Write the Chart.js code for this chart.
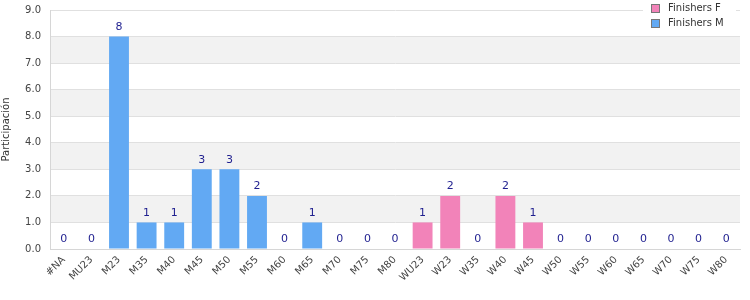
<!DOCTYPE html>
<html>
<head>
<meta charset="utf-8">
<script src="https://cdn.jsdelivr.net/npm/chart.js@4"></script>
<style>
  body { margin: 0; background: #fff; }
  #wrap { width: 750px; height: 300px; }
</style>
</head>
<body>
<div id="wrap"><canvas id="chart"></canvas></div>
<script>
// categorias y valores
const categorias = ['#NA', 'MU23', 'M23', 'M35', 'M40', 'M45', 'M50', 'M55', 'M60', 'M65', 'M70', 'M75', 'M80',
  'WU23', 'W23', 'W35', 'W40', 'W45', 'W50', 'W55', 'W60', 'W65', 'W70', 'W75', 'W80'];
const finishersF = [null, null, null, null, null, null, null, null, null, null, null, null, null,
  1, 2, 0, 2, 1, 0, 0, 0, 0, 0, 0, 0];
const finishersM = [0, 0, 8, 1, 1, 3, 3, 2, 0, 1, 0, 0, 0,
  null, null, null, null, null, null, null, null, null, null, null, null];
const serieNombres = ['Finishers F', 'Finishers M'];
const colores = ['#f283b9', '#62a9f3'];

// bandas grises alternas + etiquetas de valor + leyenda
const extras = {
  id: 'extras',
  beforeDraw(chart) {
    const { ctx, chartArea, scales } = chart;
    const y = scales.y;
    ctx.save();
    ctx.fillStyle = '#f2f2f2';
    for (let v = 1; v < 9; v += 2) {
      const top = y.getPixelForValue(v + 1);
      const bot = y.getPixelForValue(v);
      ctx.fillRect(chartArea.left, top, chartArea.right - chartArea.left, bot - top);
    }
    ctx.restore();
  },
  afterDatasetsDraw(chart) {
    const { ctx, scales } = chart;
    ctx.save();
    ctx.font = '11px "DejaVu Sans"';
    ctx.fillStyle = '#1f1f8f';
    ctx.textAlign = 'center';
    ctx.textBaseline = 'bottom';
    categorias.forEach((c, i) => {
      const v = (finishersF[i] || 0) + (finishersM[i] || 0);
      const x = scales.x.getPixelForValue(i);
      const yy = scales.y.getPixelForValue(v);
      ctx.fillText(String(v), x, yy - 4);
    });
    ctx.restore();
  },
  afterDraw(chart) {
    const { ctx } = chart;
    ctx.save();
    ctx.fillStyle = '#fff';
    ctx.fillRect(643, 0, 93, 32);
    ctx.font = '10px "DejaVu Sans"';
    ctx.textBaseline = 'middle';
    ctx.textAlign = 'left';
    serieNombres.forEach((n, i) => {
      const yy = 8.5 + i * 15;
      ctx.fillStyle = colores[i];
      ctx.fillRect(651.5, yy - 4, 8, 8);
      ctx.strokeStyle = '#777';
      ctx.lineWidth = 1;
      ctx.strokeRect(651.5, yy - 4, 8, 8);
      ctx.fillStyle = '#333';
      ctx.fillText(n, 668, yy);
    });
    ctx.restore();
  }
};

new Chart(document.getElementById('chart'), {
  type: 'bar',
  data: {
    labels: categorias,
    datasets: [
      { label: serieNombres[0], data: finishersF, backgroundColor: colores[0] },
      { label: serieNombres[1], data: finishersM, backgroundColor: colores[1] }
    ]
  },
  options: {
    responsive: true,
    maintainAspectRatio: false,
    animation: false,
    layout: { padding: { top: 10, right: 10, left: 0, bottom: 0 } },
    categoryPercentage: 1,
    barPercentage: 0.72,
    plugins: { legend: { display: false }, tooltip: { enabled: false } },
    scales: {
      x: {
        stacked: true,
        grid: { display: false, drawTicks: false },
        border: { color: '#d6d6d6' },
        ticks: {
          color: '#444', font: { family: 'DejaVu Sans', size: 10 },
          maxRotation: 45, minRotation: 45, autoSkip: false, padding: 5
        },
        afterFit(s) { s.height = 51; s.paddingLeft = 0; s.paddingRight = 0; }
      },
      y: {
        stacked: true,
        min: 0, max: 9,
        grid: { color: '#e0e0e0', drawTicks: false },
        border: { color: '#d6d6d6' },
        ticks: {
          stepSize: 1, color: '#444', font: { family: 'DejaVu Sans', size: 10 }, padding: 9,
          callback: v => v.toFixed(1)
        },
        title: {
          display: true, text: 'Participación', color: '#333',
          font: { family: 'DejaVu Sans', size: 10 }, padding: 0
        },
        afterFit(s) { s.width = 50; s.paddingTop = 0; s.paddingBottom = 0; }
      }
    }
  },
  plugins: [extras]
});
</script>
</body>
</html>
